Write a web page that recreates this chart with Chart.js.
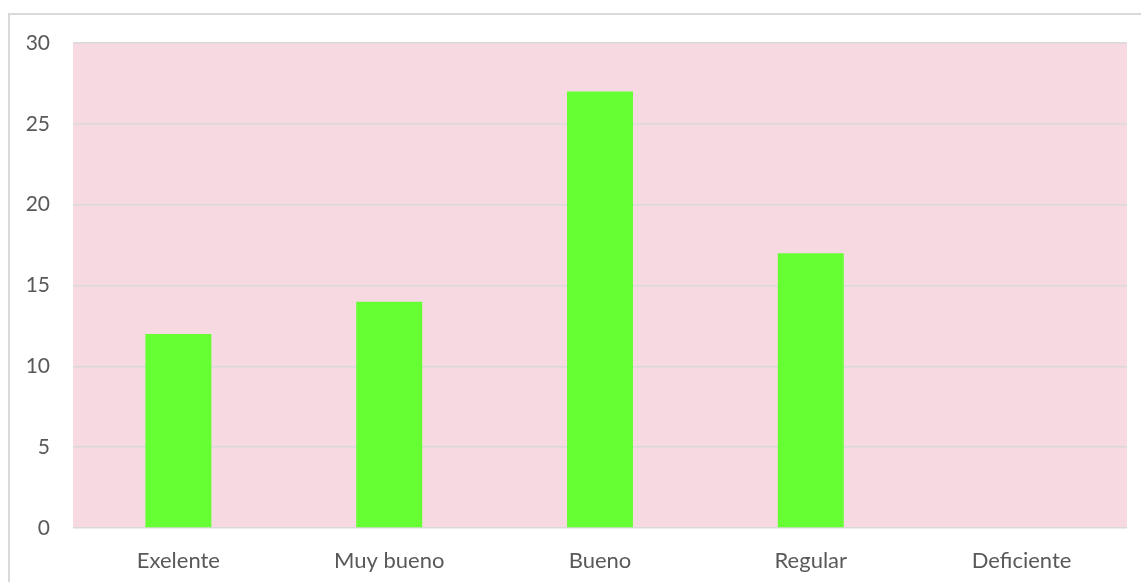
<!DOCTYPE html>
<html>
<head>
<meta charset="utf-8">
<script src="https://cdn.jsdelivr.net/npm/chart.js@4/dist/chart.umd.min.js"></script>
<style>
  html, body { margin: 0; padding: 0; background: #ffffff; overflow: hidden; }
  canvas { display: block; }
</style>
</head>
<body>
<canvas id="chart" width="1141" height="582"></canvas>
<script>
// Rating categories and how many responses each received
const categories = ['Exelente', 'Muy bueno', 'Bueno', 'Regular', 'Deficiente'];
const responses = [12, 14, 27, 17, 0];
const yTicks = [0, 5, 10, 15, 20, 25, 30];

const textColor = '#595959';
const gridColor = '#D9D9D9';
const plotFill = '#F7D9E1';
const barFill = '#66FF33';

// Pink plot area plus the light frame (top and left edges) around the chart
const backdrop = {
  id: 'backdrop',
  beforeDraw(chart) {
    const { ctx, chartArea: a } = chart;
    ctx.save();
    ctx.fillStyle = plotFill;
    ctx.fillRect(a.left, a.top, a.right - a.left, a.bottom - a.top);
    ctx.strokeStyle = gridColor;
    ctx.lineWidth = 2;
    ctx.beginPath();
    ctx.moveTo(9, chart.height);
    ctx.lineTo(9, 14);
    ctx.lineTo(chart.width, 14);
    ctx.stroke();
    ctx.restore();
  }
};

new Chart(document.getElementById('chart'), {
  type: 'bar',
  data: {
    labels: categories,
    datasets: [{
      data: responses,
      backgroundColor: barFill,
      borderWidth: 0,
      barPercentage: 0.313,
      categoryPercentage: 1
    }]
  },
  options: {
    responsive: false,
    animation: false,
    layout: { padding: { top: 43, right: 14, left: 0, bottom: 0 } },
    plugins: { legend: { display: false }, tooltip: { enabled: false } },
    scales: {
      x: {
        grid: { display: false },
        border: { display: false },
        ticks: {
          color: textColor,
          font: { family: 'Lato', size: 22 },
          padding: 12,
          maxRotation: 0
        },
        afterFit(scale) { scale.height = 54; }
      },
      y: {
        min: 0,
        max: 30,
        afterBuildTicks(scale) { scale.ticks = yTicks.map(v => ({ value: v })); },
        grid: { color: gridColor, lineWidth: 1.5, drawTicks: false },
        border: { display: false },
        ticks: {
          color: textColor,
          font: { family: 'Lato', size: 21 },
          padding: 23
        },
        afterFit(scale) { scale.width = 73; }
      }
    }
  },
  plugins: [backdrop]
});
</script>
</body>
</html>
